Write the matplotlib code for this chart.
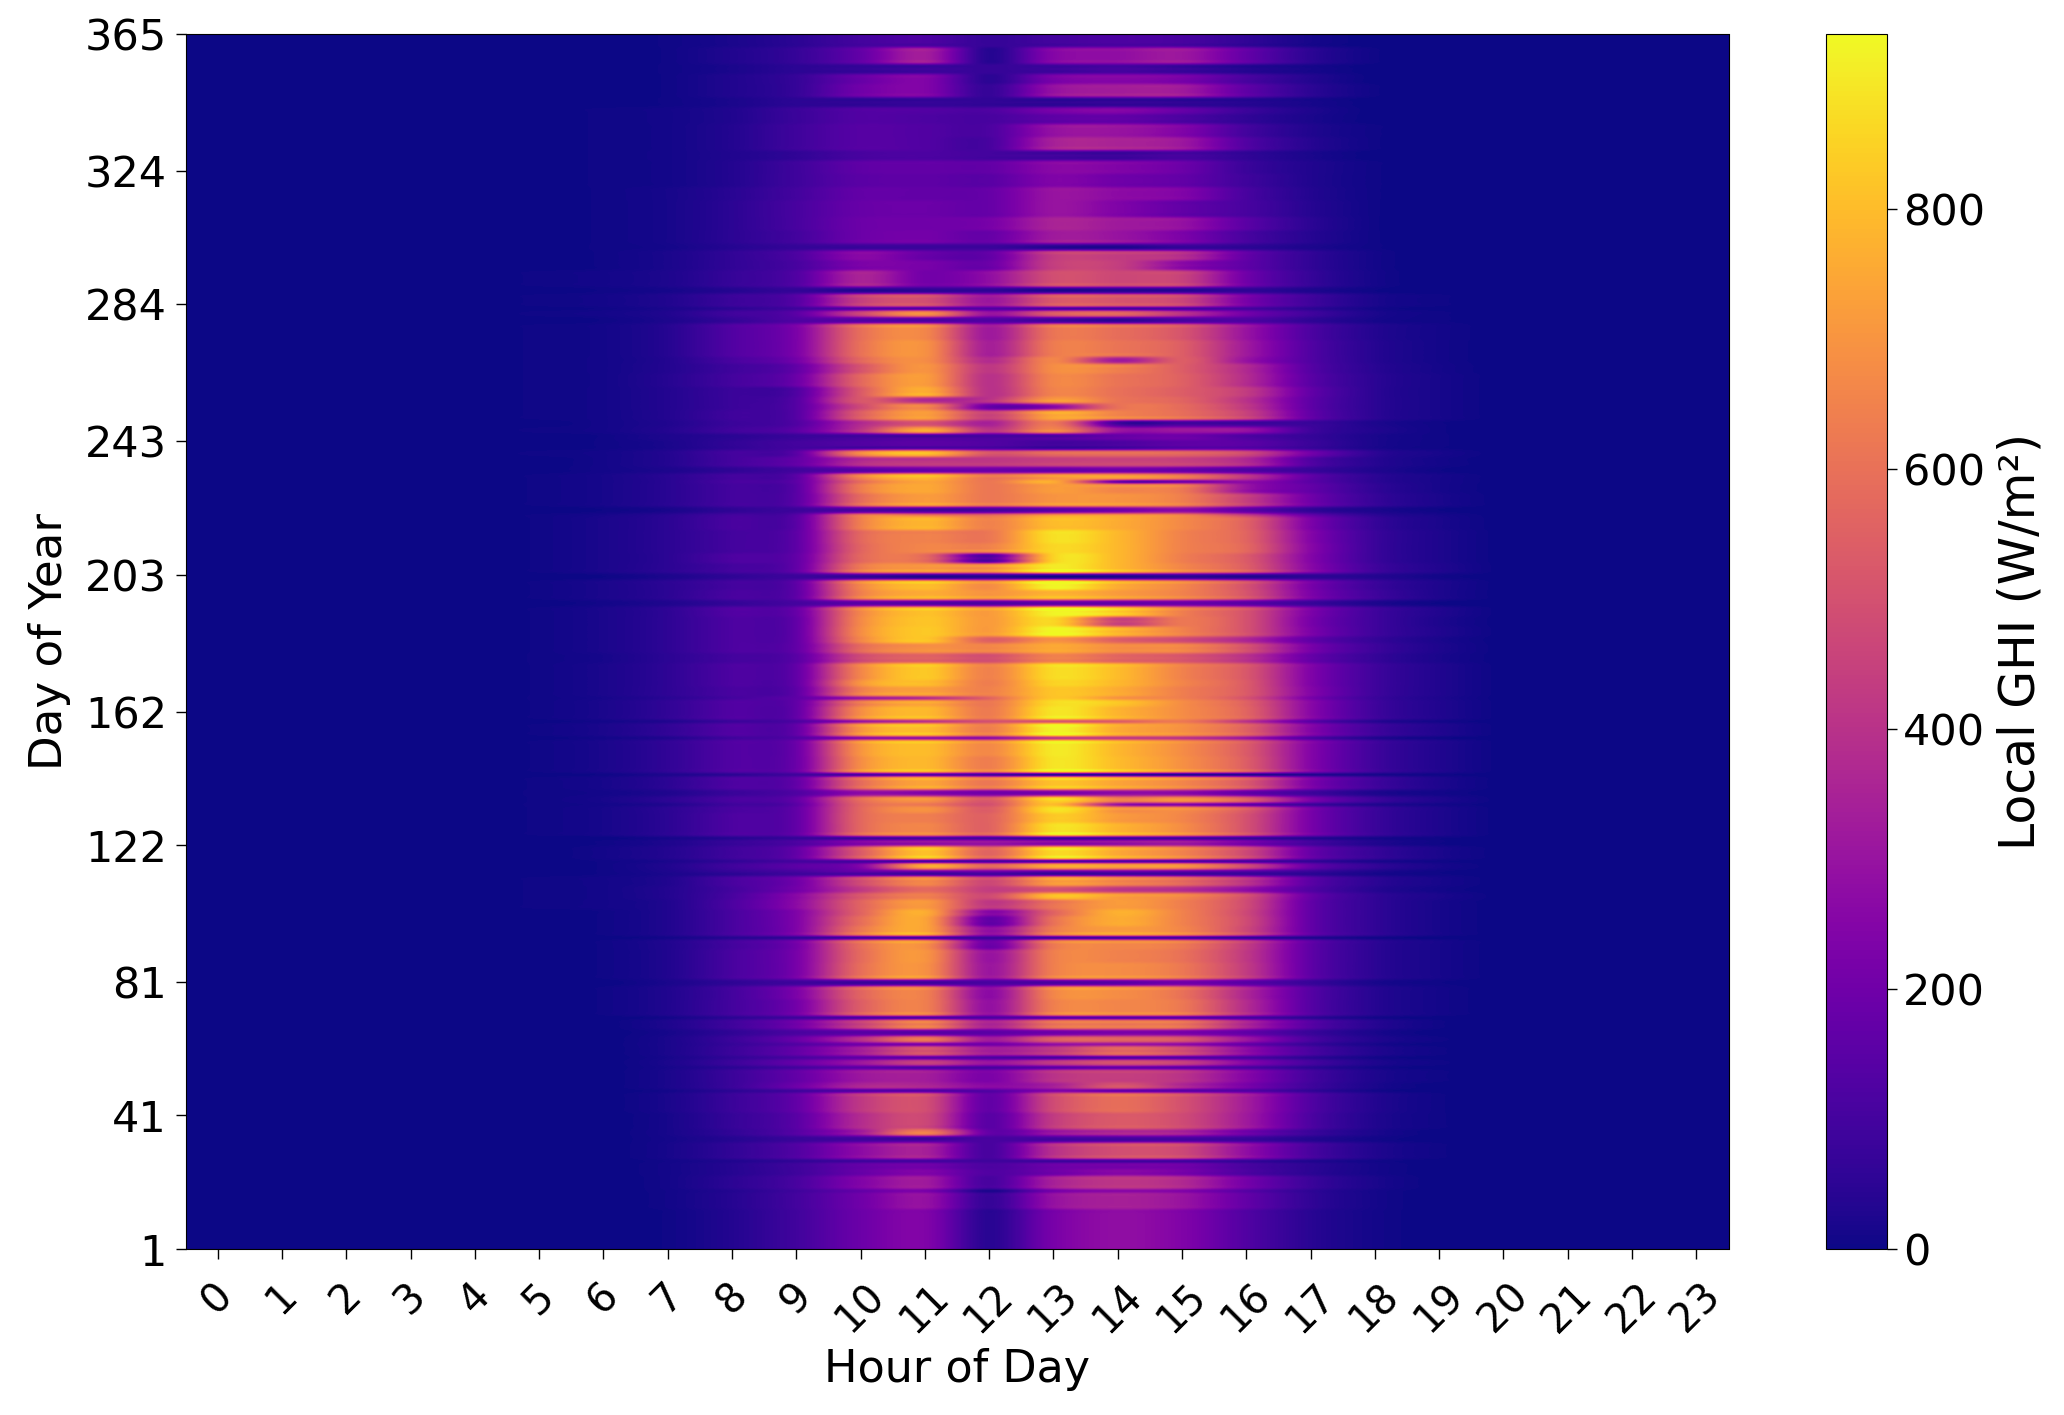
import numpy as np
import matplotlib
matplotlib.use("Agg")
import matplotlib.pyplot as plt

W, H = 2064, 1415

hours = list(range(24))
day_ticks = [1, 41, 81, 122, 162, 203, 243, 284, 324, 365]
cbar_ticks = [0, 200, 400, 600, 800]
ghi_max = 935

# last day of each band of days
band_last_day = [
    12, 17, 18, 22, 24, 26, 27, 32, 34, 36,
    41, 47, 48, 50, 54, 55, 57, 58, 61, 62,
    64, 66, 69, 70, 75, 79, 81, 86, 90, 93,
    94, 97, 100, 102, 105, 107, 109, 112, 113, 114,
    116, 117, 121, 123, 124, 128, 131, 133, 134, 136,
    138, 142, 143, 148, 153, 154, 158, 159, 163, 165,
    166, 169, 171, 176, 179, 182, 184, 187, 190, 193,
    195, 198, 201, 203, 206, 209, 212, 216, 220, 221,
    223, 227, 230, 231, 233, 235, 238, 240, 243, 245,
    247, 249, 252, 254, 256, 259, 263, 266, 268, 273,
    278, 280, 282, 283, 287, 289, 294, 297, 300, 302,
    306, 310, 315, 319, 323, 327, 330, 334, 338, 341,
    343, 346, 350, 353, 356, 361, 365,
]

# W/m2 of each band for hours 5 to 19, the other hours stay at 0
band_ghi = [
    [0, 0, 5, 35, 95, 190, 240, 45, 220, 280, 240, 130, 45, 10, 0],
    [0, 0, 8, 40, 100, 200, 290, 70, 290, 340, 300, 170, 60, 12, 0],
    [0, 0, 8, 35, 90, 170, 220, 20, 210, 260, 240, 140, 55, 12, 0],
    [0, 0, 10, 50, 110, 240, 320, 110, 340, 410, 370, 210, 80, 20, 0],
    [0, 0, 10, 40, 90, 180, 240, 130, 200, 260, 220, 120, 50, 12, 0],
    [0, 0, 10, 40, 90, 170, 200, 120, 190, 210, 200, 110, 50, 12, 0],
    [0, 0, 8, 30, 60, 90, 100, 90, 90, 100, 100, 70, 30, 8, 0],
    [0, 0, 15, 60, 130, 270, 340, 110, 390, 490, 470, 280, 110, 30, 5],
    [0, 0, 12, 40, 80, 110, 120, 110, 120, 130, 130, 90, 40, 10, 0],
    [0, 0, 15, 60, 140, 320, 620, 170, 300, 360, 340, 200, 80, 20, 0],
    [0, 0, 15, 70, 150, 380, 470, 150, 430, 530, 480, 320, 120, 30, 5],
    [0, 0, 20, 80, 170, 420, 490, 170, 480, 590, 500, 330, 130, 35, 5],
    [0, 0, 10, 50, 90, 130, 130, 130, 240, 170, 150, 130, 60, 10, 0],
    [0, 0, 20, 80, 190, 350, 350, 260, 340, 500, 360, 220, 90, 20, 0],
    [0, 0, 20, 80, 170, 310, 330, 230, 400, 440, 400, 250, 100, 25, 5],
    [0, 0, 15, 50, 100, 150, 120, 110, 150, 170, 150, 110, 50, 10, 0],
    [0, 0, 20, 80, 170, 300, 420, 290, 400, 470, 420, 240, 100, 25, 5],
    [0, 0, 15, 60, 110, 160, 150, 120, 110, 130, 130, 110, 50, 10, 0],
    [0, 0, 20, 80, 170, 330, 500, 330, 420, 560, 480, 270, 110, 30, 5],
    [0, 0, 20, 70, 130, 200, 220, 200, 280, 300, 270, 170, 70, 15, 0],
    [0, 0, 20, 80, 180, 380, 590, 320, 520, 540, 500, 300, 110, 30, 5],
    [0, 0, 15, 60, 120, 170, 190, 170, 230, 260, 250, 180, 80, 20, 0],
    [0, 0, 25, 90, 200, 440, 630, 350, 590, 610, 590, 350, 140, 40, 5],
    [0, 0, 10, 50, 90, 110, 120, 120, 140, 140, 140, 110, 50, 10, 0],
    [0, 5, 30, 100, 210, 540, 640, 290, 640, 660, 620, 380, 140, 40, 10],
    [0, 5, 30, 100, 230, 560, 640, 270, 660, 680, 600, 360, 140, 40, 10],
    [0, 0, 20, 60, 100, 130, 150, 130, 170, 200, 240, 170, 80, 20, 5],
    [0, 5, 30, 110, 220, 590, 690, 310, 640, 680, 620, 430, 160, 50, 15],
    [0, 5, 30, 110, 220, 580, 700, 300, 640, 650, 600, 420, 160, 50, 15],
    [0, 5, 30, 100, 210, 590, 680, 190, 620, 660, 620, 430, 160, 50, 15],
    [0, 0, 10, 40, 60, 90, 90, 80, 90, 90, 90, 60, 30, 8, 0],
    [0, 5, 30, 110, 240, 620, 740, 280, 630, 720, 660, 470, 170, 60, 15],
    [0, 5, 30, 110, 240, 590, 740, 170, 600, 760, 650, 480, 170, 60, 15],
    [0, 5, 30, 110, 240, 560, 760, 260, 560, 770, 650, 470, 170, 60, 15],
    [5, 10, 30, 120, 270, 560, 710, 420, 610, 720, 640, 480, 170, 60, 15],
    [5, 10, 35, 110, 260, 520, 640, 480, 790, 720, 660, 490, 180, 60, 20],
    [5, 10, 35, 100, 210, 430, 580, 440, 520, 440, 400, 290, 130, 40, 10],
    [5, 10, 30, 110, 200, 480, 660, 470, 710, 650, 570, 400, 150, 50, 15],
    [0, 5, 20, 50, 90, 120, 110, 110, 100, 110, 110, 90, 50, 15, 5],
    [0, 5, 25, 70, 110, 180, 220, 220, 200, 220, 200, 150, 80, 25, 5],
    [0, 5, 30, 90, 150, 240, 700, 540, 700, 680, 650, 450, 170, 60, 15],
    [0, 5, 20, 60, 100, 110, 110, 100, 120, 120, 120, 100, 60, 20, 5],
    [0, 10, 35, 90, 170, 530, 810, 560, 860, 750, 650, 470, 180, 70, 20],
    [0, 5, 25, 70, 120, 250, 300, 300, 280, 300, 320, 220, 100, 30, 5],
    [0, 0, 15, 40, 70, 90, 110, 100, 100, 100, 100, 80, 40, 15, 5],
    [5, 15, 50, 120, 170, 570, 660, 560, 880, 780, 680, 500, 220, 80, 25],
    [5, 15, 50, 120, 170, 570, 640, 560, 830, 720, 660, 500, 220, 80, 25],
    [5, 15, 50, 110, 170, 570, 690, 540, 880, 690, 670, 520, 220, 80, 25],
    [5, 10, 30, 90, 150, 560, 620, 500, 800, 300, 240, 160, 80, 30, 10],
    [5, 15, 50, 110, 170, 580, 680, 520, 840, 620, 660, 520, 220, 80, 25],
    [5, 10, 30, 80, 130, 300, 290, 240, 280, 310, 300, 200, 100, 30, 10],
    [5, 15, 50, 120, 170, 580, 740, 620, 810, 740, 660, 520, 230, 90, 25],
    [0, 5, 25, 50, 90, 110, 130, 90, 40, 40, 30, 30, 30, 15, 5],
    [5, 20, 60, 130, 190, 680, 790, 640, 890, 800, 690, 540, 250, 90, 30],
    [5, 20, 60, 130, 190, 700, 800, 670, 900, 790, 680, 530, 250, 90, 30],
    [0, 10, 30, 90, 130, 260, 280, 270, 410, 420, 400, 300, 120, 30, 5],
    [5, 20, 60, 130, 170, 700, 800, 640, 920, 760, 690, 550, 250, 90, 30],
    [0, 10, 30, 80, 120, 300, 400, 500, 510, 540, 620, 400, 150, 40, 10],
    [5, 20, 60, 130, 170, 680, 790, 630, 890, 780, 680, 560, 260, 90, 30],
    [5, 20, 60, 130, 170, 620, 740, 620, 870, 820, 680, 550, 260, 90, 30],
    [5, 15, 45, 100, 160, 300, 380, 560, 820, 700, 640, 500, 220, 80, 25],
    [5, 20, 55, 110, 160, 640, 730, 650, 820, 760, 640, 530, 250, 90, 30],
    [5, 20, 55, 120, 170, 700, 800, 640, 850, 790, 660, 530, 240, 90, 30],
    [5, 20, 55, 120, 170, 660, 830, 650, 870, 800, 650, 520, 240, 90, 30],
    [5, 15, 50, 100, 150, 480, 560, 500, 650, 570, 520, 400, 180, 70, 20],
    [5, 20, 55, 120, 170, 580, 690, 660, 750, 680, 660, 500, 220, 85, 25],
    [5, 20, 55, 120, 170, 660, 820, 560, 700, 560, 490, 370, 170, 70, 20],
    [5, 20, 55, 120, 170, 680, 830, 720, 930, 780, 650, 500, 230, 90, 30],
    [5, 20, 55, 120, 170, 670, 820, 720, 860, 470, 620, 500, 220, 90, 25],
    [5, 20, 55, 130, 180, 660, 810, 720, 920, 830, 640, 500, 230, 90, 30],
    [0, 10, 30, 70, 110, 200, 200, 180, 230, 230, 230, 180, 90, 30, 5],
    [5, 20, 50, 110, 160, 640, 760, 700, 780, 720, 650, 510, 230, 90, 25],
    [5, 20, 50, 100, 160, 660, 800, 680, 920, 760, 660, 500, 220, 80, 25],
    [0, 5, 25, 60, 90, 120, 100, 100, 100, 100, 110, 80, 70, 40, 10],
    [5, 20, 50, 100, 170, 620, 700, 680, 900, 790, 660, 540, 260, 90, 30],
    [5, 20, 50, 120, 170, 570, 580, 150, 850, 790, 640, 530, 250, 80, 25],
    [5, 20, 50, 100, 160, 560, 660, 650, 860, 790, 650, 570, 260, 80, 25],
    [5, 20, 50, 100, 160, 570, 650, 620, 880, 790, 650, 560, 250, 80, 25],
    [5, 20, 50, 110, 150, 640, 780, 650, 800, 760, 670, 550, 230, 70, 20],
    [5, 15, 45, 100, 140, 600, 600, 560, 690, 700, 640, 430, 170, 50, 15],
    [0, 5, 20, 60, 90, 160, 150, 150, 200, 250, 300, 180, 70, 25, 5],
    [5, 15, 45, 100, 150, 580, 720, 620, 700, 700, 640, 440, 200, 70, 20],
    [5, 15, 45, 100, 150, 630, 750, 620, 720, 660, 620, 300, 170, 60, 15],
    [5, 15, 45, 110, 160, 580, 740, 620, 760, 180, 200, 270, 150, 50, 15],
    [5, 15, 45, 100, 150, 640, 780, 610, 700, 690, 600, 400, 160, 50, 15],
    [0, 10, 25, 60, 100, 180, 220, 220, 210, 230, 210, 150, 80, 30, 5],
    [0, 10, 35, 100, 170, 380, 420, 420, 450, 460, 450, 370, 130, 40, 10],
    [5, 10, 35, 100, 150, 640, 760, 500, 560, 570, 550, 460, 200, 50, 15],
    [0, 5, 20, 60, 100, 130, 150, 130, 100, 120, 160, 150, 80, 20, 5],
    [0, 5, 25, 50, 80, 110, 130, 120, 140, 180, 200, 130, 70, 20, 5],
    [5, 10, 35, 90, 150, 400, 720, 400, 650, 300, 300, 280, 90, 30, 5],
    [0, 10, 30, 80, 130, 380, 520, 350, 620, 130, 130, 110, 80, 25, 5],
    [5, 10, 35, 90, 140, 540, 720, 450, 740, 650, 590, 450, 170, 50, 15],
    [5, 10, 35, 80, 140, 480, 650, 200, 300, 600, 580, 420, 160, 50, 15],
    [5, 10, 35, 80, 140, 520, 400, 400, 700, 610, 560, 400, 160, 50, 15],
    [5, 10, 35, 80, 130, 530, 760, 400, 650, 600, 540, 430, 170, 50, 15],
    [5, 10, 40, 100, 190, 570, 720, 400, 660, 610, 550, 380, 150, 50, 15],
    [5, 10, 35, 90, 170, 510, 700, 420, 680, 640, 540, 370, 140, 45, 12],
    [5, 10, 35, 110, 210, 570, 680, 380, 660, 350, 540, 300, 130, 40, 10],
    [5, 10, 40, 130, 230, 600, 690, 340, 630, 610, 540, 320, 130, 40, 10],
    [5, 10, 40, 130, 230, 590, 660, 320, 610, 590, 510, 300, 120, 35, 10],
    [0, 5, 25, 70, 130, 170, 170, 140, 130, 100, 140, 130, 60, 15, 5],
    [5, 10, 30, 90, 150, 440, 640, 290, 500, 530, 380, 200, 90, 20, 5],
    [0, 5, 20, 50, 90, 130, 130, 130, 110, 100, 110, 100, 50, 10, 0],
    [5, 10, 30, 80, 140, 440, 490, 310, 520, 510, 460, 220, 90, 20, 5],
    [0, 5, 15, 40, 70, 70, 80, 80, 70, 80, 80, 70, 30, 5, 0],
    [5, 10, 25, 70, 130, 350, 210, 280, 490, 470, 450, 200, 70, 12, 0],
    [0, 5, 20, 60, 110, 230, 220, 190, 440, 440, 270, 160, 60, 10, 0],
    [0, 5, 20, 60, 120, 260, 180, 170, 430, 430, 380, 170, 60, 10, 0],
    [0, 5, 12, 40, 70, 90, 90, 90, 70, 60, 90, 60, 25, 5, 0],
    [0, 5, 15, 50, 100, 190, 210, 180, 320, 300, 230, 110, 40, 5, 0],
    [0, 5, 15, 50, 110, 190, 200, 220, 350, 320, 290, 150, 50, 5, 0],
    [0, 5, 15, 50, 110, 180, 190, 180, 300, 240, 170, 110, 40, 5, 0],
    [0, 5, 15, 45, 100, 170, 170, 180, 300, 270, 240, 110, 35, 5, 0],
    [0, 5, 10, 35, 90, 150, 160, 150, 240, 200, 170, 90, 30, 5, 0],
    [0, 5, 10, 35, 90, 160, 170, 170, 260, 240, 190, 80, 30, 5, 0],
    [0, 5, 10, 30, 60, 110, 120, 100, 100, 90, 110, 60, 20, 0, 0],
    [0, 5, 10, 35, 90, 140, 130, 110, 340, 350, 310, 130, 40, 5, 0],
    [0, 5, 10, 35, 90, 140, 130, 120, 290, 300, 240, 100, 30, 5, 0],
    [0, 5, 10, 30, 80, 130, 120, 110, 160, 170, 120, 60, 20, 0, 0],
    [0, 5, 10, 30, 80, 130, 130, 120, 210, 240, 170, 80, 25, 0, 0],
    [0, 0, 5, 20, 50, 60, 70, 60, 60, 70, 60, 40, 15, 0, 0],
    [0, 0, 5, 30, 70, 200, 240, 70, 290, 330, 320, 160, 50, 5, 0],
    [0, 0, 5, 30, 70, 180, 240, 50, 220, 250, 220, 110, 35, 0, 0],
    [0, 0, 5, 20, 50, 70, 90, 70, 90, 110, 80, 40, 15, 0, 0],
    [0, 0, 5, 30, 70, 170, 330, 40, 250, 280, 310, 170, 50, 5, 0],
    [0, 0, 5, 20, 50, 100, 120, 70, 100, 120, 110, 60, 15, 0, 0],
]

band_ghi = np.array(band_ghi, dtype=float)
band_days = np.diff([0] + band_last_day)
grid = np.zeros((365, 24))
grid[:, 5:20] = np.repeat(band_ghi, band_days, axis=0)

fig = plt.figure(figsize=(W / 100, H / 100), dpi=100)
ax = fig.add_axes([185.5 / W, 1 - 1249 / H, 1543 / W, 1215 / H])
cax = fig.add_axes([1826 / W, 1 - 1249 / H, 61 / W, 1215 / H])

im = ax.imshow(grid, origin="lower", aspect="auto", cmap="plasma", vmin=0, vmax=ghi_max,
               extent=[-0.5, 23.5, 1, 365], interpolation="catrom")

ax.set_xticks(hours)
ax.set_xticklabels(hours, rotation=45, fontsize=29)
ax.set_yticks(day_ticks)
ax.set_yticklabels(day_ticks, fontsize=31)
ax.tick_params(axis="y", length=7, width=1, pad=6.5)
ax.tick_params(axis="x", length=7, width=1, pad=12)
ax.set_xlabel("Hour of Day", fontsize=32, labelpad=6)
ax.set_ylabel("Day of Year", fontsize=32.5, labelpad=10)

cb = fig.colorbar(im, cax=cax)
cb.set_ticks(cbar_ticks)
cb.ax.tick_params(labelsize=31, length=7, width=1, pad=4.5)
cb.set_label("Local GHI (W/m²)", fontsize=35.2, labelpad=8)

fig.savefig("out.png", dpi=100)
